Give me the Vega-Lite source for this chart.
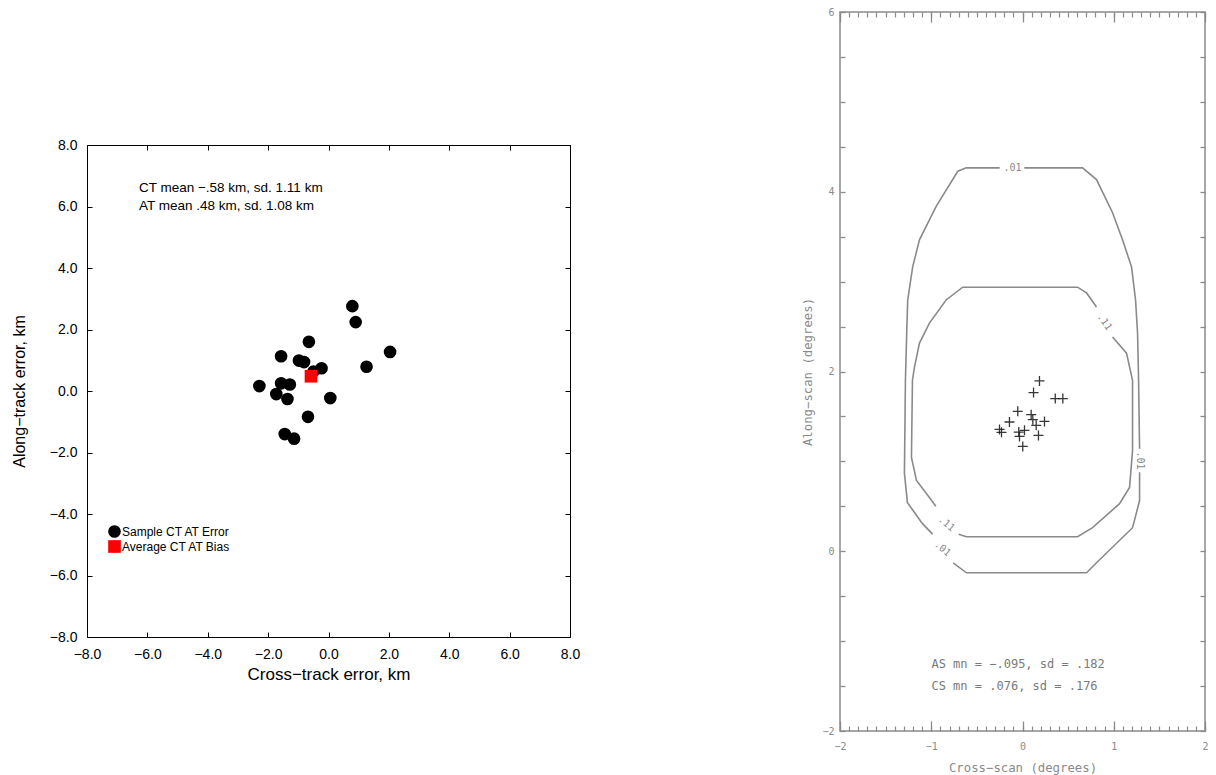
{
  "$schema": "https://vega.github.io/schema/vega-lite/v6.json",
  "padding": {"left": 10, "top": 6, "right": 0, "bottom": 0},
  "background": "white",
  "spacing": 220,
  "config": {"axis": {"grid": false, "labelFlush": false}},
  "hconcat": [
    {
      "spacing": 0,
      "vconcat": [
        {
          "width": 10,
          "height": 125,
          "view": {"stroke": null},
          "data": {"values": []},
          "mark": "point"
        },
        {
          "width": 483,
          "height": 492,
          "view": {"stroke": "black", "strokeWidth": 1},
          "resolve": {"axis": {"x": "independent", "y": "independent"}},
          "layer": [
            {
              "data": {"values": [
                {"ct": 0.79, "at": 2.76, "kind": "Sample CT AT Error"},
                {"ct": 0.90, "at": 2.24, "kind": "Sample CT AT Error"},
                {"ct": -0.65, "at": 1.60, "kind": "Sample CT AT Error"},
                {"ct": 2.04, "at": 1.27, "kind": "Sample CT AT Error"},
                {"ct": -1.57, "at": 1.13, "kind": "Sample CT AT Error"},
                {"ct": -0.98, "at": 0.99, "kind": "Sample CT AT Error"},
                {"ct": -0.81, "at": 0.94, "kind": "Sample CT AT Error"},
                {"ct": -0.23, "at": 0.74, "kind": "Sample CT AT Error"},
                {"ct": 1.26, "at": 0.79, "kind": "Sample CT AT Error"},
                {"ct": -0.50, "at": 0.63, "kind": "Sample CT AT Error"},
                {"ct": -2.29, "at": 0.16, "kind": "Sample CT AT Error"},
                {"ct": -1.57, "at": 0.25, "kind": "Sample CT AT Error"},
                {"ct": -1.28, "at": 0.21, "kind": "Sample CT AT Error"},
                {"ct": -1.73, "at": -0.10, "kind": "Sample CT AT Error"},
                {"ct": -1.36, "at": -0.26, "kind": "Sample CT AT Error"},
                {"ct": 0.06, "at": -0.23, "kind": "Sample CT AT Error"},
                {"ct": -0.68, "at": -0.84, "kind": "Sample CT AT Error"},
                {"ct": -1.45, "at": -1.40, "kind": "Sample CT AT Error"},
                {"ct": -1.14, "at": -1.55, "kind": "Sample CT AT Error"},
                {"ct": -0.58, "at": 0.48, "kind": "Average CT AT Bias"}
              ]},
              "mark": {"type": "point", "filled": true, "size": 160, "opacity": 1},
              "encoding": {
                "x": {"field": "ct", "type": "quantitative",
                  "scale": {"domain": [-8, 8], "nice": false, "zero": false},
                  "axis": {"orient": "bottom", "values": [-8, -6, -4, -2, 0, 2, 4, 6, 8], "format": ".1f",
                    "ticks": false, "domain": false, "labelPadding": 10,
                    "labelFont": "Liberation Sans", "labelFontSize": 14, "labelColor": "black",
                    "title": "Cross−track error, km", "titleFont": "Liberation Sans", "titleFontSize": 17,
                    "titleFontWeight": "normal", "titleColor": "black", "titlePadding": 5}},
                "y": {"field": "at", "type": "quantitative",
                  "scale": {"domain": [-8, 8], "nice": false, "zero": false},
                  "axis": {"orient": "left", "values": [-8, -6, -4, -2, 0, 2, 4, 6, 8], "format": ".1f",
                    "ticks": false, "domain": false, "labelPadding": 10,
                    "labelFont": "Liberation Sans", "labelFontSize": 14, "labelColor": "black",
                    "title": "Along−track error, km", "titleFont": "Liberation Sans", "titleFontSize": 16,
                    "titleFontWeight": "normal", "titleColor": "black", "titlePadding": 22}},
                "color": {"field": "kind", "type": "nominal",
                  "scale": {"domain": ["Sample CT AT Error", "Average CT AT Bias"], "range": ["#000000", "#ff0000"]},
                  "legend": {"orient": "none", "legendX": 21, "legendY": 513, "title": null,
                    "labelFont": "Liberation Sans", "labelFontSize": 12, "labelColor": "black",
                    "labelOffset": 1, "rowPadding": 2, "symbolSize": 160, "symbolStrokeWidth": 0}},
                "shape": {"field": "kind", "type": "nominal",
                  "scale": {"domain": ["Sample CT AT Error", "Average CT AT Bias"], "range": ["circle", "square"]},
                  "legend": {"orient": "none", "legendX": 21, "legendY": 513, "title": null,
                    "labelFont": "Liberation Sans", "labelFontSize": 12, "labelColor": "black",
                    "labelOffset": 1, "rowPadding": 2, "symbolSize": 160, "symbolStrokeWidth": 0}},
                "order": {"field": "kind", "sort": "descending"}
              }
            },
            {
              "data": {"values": [{"t": "CT mean −.58 km, sd. 1.11 km"}]},
              "mark": {"type": "text", "align": "left", "baseline": "middle", "font": "Liberation Sans", "fontSize": 13.5, "color": "black"},
              "encoding": {
                "text": {"field": "t"},
                "x": {"datum": -6.28, "type": "quantitative",
                  "axis": {"orient": "bottom", "values": [-8, -6, -4, -2, 0, 2, 4, 6, 8], "labels": false, "domain": false,
                    "tickSize": -5, "tickColor": "black", "title": null}},
                "y": {"datum": 6.6, "type": "quantitative",
                  "axis": {"orient": "left", "values": [-8, -6, -4, -2, 0, 2, 4, 6, 8], "labels": false, "domain": false,
                    "tickSize": -5, "tickColor": "black", "title": null}}
              }
            },
            {
              "data": {"values": [{"t": "AT mean .48 km, sd. 1.08 km"}]},
              "mark": {"type": "text", "align": "left", "baseline": "middle", "font": "Liberation Sans", "fontSize": 13.5, "color": "black"},
              "encoding": {
                "text": {"field": "t"},
                "x": {"datum": -6.28, "type": "quantitative",
                  "axis": {"orient": "top", "values": [-8, -6, -4, -2, 0, 2, 4, 6, 8], "labels": false, "domain": false,
                    "tickSize": -5, "tickColor": "black", "title": null}},
                "y": {"datum": 6.02, "type": "quantitative",
                  "axis": {"orient": "right", "values": [-8, -6, -4, -2, 0, 2, 4, 6, 8], "labels": false, "domain": false,
                    "tickSize": -5, "tickColor": "black", "title": null}}
              }
            }
          ]
        }
      ]
    },
    {
      "width": 365,
      "height": 719,
      "view": {"stroke": "#8a8a8a", "strokeWidth": 1.5},
      "resolve": {"axis": {"x": "independent", "y": "independent"}},
      "layer": [
        {
          "data": {"values": [
            {"seg": "O1", "level": ".01", "ord": 1, "x": -0.25, "y": 4.266},
            {"seg": "O1", "level": ".01", "ord": 2, "x": -0.617, "y": 4.266},
            {"seg": "O1", "level": ".01", "ord": 3, "x": -0.709, "y": 4.228},
            {"seg": "O1", "level": ".01", "ord": 4, "x": -0.946, "y": 3.837},
            {"seg": "O1", "level": ".01", "ord": 5, "x": -1.129, "y": 3.465},
            {"seg": "O1", "level": ".01", "ord": 6, "x": -1.203, "y": 3.167},
            {"seg": "O1", "level": ".01", "ord": 7, "x": -1.258, "y": 2.796},
            {"seg": "O1", "level": ".01", "ord": 8, "x": -1.269, "y": 2.427},
            {"seg": "O1", "level": ".01", "ord": 9, "x": -1.283, "y": 1.903},
            {"seg": "O1", "level": ".01", "ord": 10, "x": -1.294, "y": 0.865},
            {"seg": "O1", "level": ".01", "ord": 11, "x": -1.261, "y": 0.541},
            {"seg": "O1", "level": ".01", "ord": 12, "x": -1.096, "y": 0.307},
            {"seg": "O1", "level": ".01", "ord": 13, "x": -0.985, "y": 0.19},
            {"seg": "O2", "level": ".01", "ord": 1, "x": -0.76, "y": -0.13},
            {"seg": "O2", "level": ".01", "ord": 2, "x": -0.614, "y": -0.24},
            {"seg": "O2", "level": ".01", "ord": 3, "x": 0.702, "y": -0.24},
            {"seg": "O2", "level": ".01", "ord": 4, "x": 0.811, "y": -0.128},
            {"seg": "O2", "level": ".01", "ord": 5, "x": 1.206, "y": 0.262},
            {"seg": "O2", "level": ".01", "ord": 6, "x": 1.283, "y": 0.564},
            {"seg": "O2", "level": ".01", "ord": 7, "x": 1.283, "y": 0.88},
            {"seg": "O3", "level": ".01", "ord": 1, "x": 1.283, "y": 1.14},
            {"seg": "O3", "level": ".01", "ord": 2, "x": 1.272, "y": 1.903},
            {"seg": "O3", "level": ".01", "ord": 3, "x": 1.261, "y": 2.427},
            {"seg": "O3", "level": ".01", "ord": 4, "x": 1.239, "y": 2.796},
            {"seg": "O3", "level": ".01", "ord": 5, "x": 1.195, "y": 3.164},
            {"seg": "O3", "level": ".01", "ord": 6, "x": 1.096, "y": 3.465},
            {"seg": "O3", "level": ".01", "ord": 7, "x": 0.987, "y": 3.767},
            {"seg": "O3", "level": ".01", "ord": 8, "x": 0.811, "y": 4.135},
            {"seg": "O3", "level": ".01", "ord": 9, "x": 0.658, "y": 4.266},
            {"seg": "O3", "level": ".01", "ord": 10, "x": 0.02, "y": 4.266},
            {"seg": "I1", "level": ".11", "ord": 1, "x": 0.811, "y": 2.718},
            {"seg": "I1", "level": ".11", "ord": 2, "x": 0.702, "y": 2.874},
            {"seg": "I1", "level": ".11", "ord": 3, "x": 0.603, "y": 2.938},
            {"seg": "I1", "level": ".11", "ord": 4, "x": -0.655, "y": 2.938},
            {"seg": "I1", "level": ".11", "ord": 5, "x": -0.837, "y": 2.796},
            {"seg": "I1", "level": ".11", "ord": 6, "x": -1.02, "y": 2.539},
            {"seg": "I1", "level": ".11", "ord": 7, "x": -1.129, "y": 2.316},
            {"seg": "I1", "level": ".11", "ord": 8, "x": -1.184, "y": 2.048},
            {"seg": "I1", "level": ".11", "ord": 9, "x": -1.206, "y": 1.903},
            {"seg": "I1", "level": ".11", "ord": 10, "x": -1.217, "y": 1.044},
            {"seg": "I1", "level": ".11", "ord": 11, "x": -1.162, "y": 0.787},
            {"seg": "I1", "level": ".11", "ord": 12, "x": -1.02, "y": 0.597},
            {"seg": "I1", "level": ".11", "ord": 13, "x": -0.95, "y": 0.5},
            {"seg": "I2", "level": ".11", "ord": 1, "x": -0.7, "y": 0.19},
            {"seg": "I2", "level": ".11", "ord": 2, "x": -0.614, "y": 0.162},
            {"seg": "I2", "level": ".11", "ord": 3, "x": 0.603, "y": 0.162},
            {"seg": "I2", "level": ".11", "ord": 4, "x": 0.768, "y": 0.262},
            {"seg": "I2", "level": ".11", "ord": 5, "x": 1.064, "y": 0.53},
            {"seg": "I2", "level": ".11", "ord": 6, "x": 1.173, "y": 0.709},
            {"seg": "I2", "level": ".11", "ord": 7, "x": 1.206, "y": 1.122},
            {"seg": "I2", "level": ".11", "ord": 8, "x": 1.206, "y": 1.903},
            {"seg": "I2", "level": ".11", "ord": 9, "x": 1.14, "y": 2.204},
            {"seg": "I2", "level": ".11", "ord": 10, "x": 0.987, "y": 2.383}
          ]},
          "mark": {"type": "line", "stroke": "#8a8a8a", "strokeWidth": 1.6, "interpolate": "linear"},
          "encoding": {
            "x": {"field": "x", "type": "quantitative",
              "scale": {"domain": [-2, 2], "nice": false, "zero": false},
              "axis": {"orient": "bottom", "values": [-2, -1, 0, 1, 2], "format": "d",
                "ticks": false, "domain": false, "labelPadding": 10,
                "labelFont": "DejaVu Sans Mono", "labelFontSize": 10, "labelColor": "#8a8a8a",
                "title": "Cross−scan (degrees)", "titleFont": "DejaVu Sans Mono", "titleFontSize": 12.3,
                "titleFontWeight": "normal", "titleColor": "#8a8a8a", "titlePadding": 10}},
            "y": {"field": "y", "type": "quantitative",
              "scale": {"domain": [-2, 6], "nice": false, "zero": false},
              "axis": {"orient": "left", "values": [-2, 0, 2, 4, 6], "format": "d",
                "ticks": false, "domain": false, "labelPadding": 6,
                "labelFont": "DejaVu Sans Mono", "labelFontSize": 10, "labelColor": "#8a8a8a",
                "title": "Along−scan (degrees)", "titleFont": "DejaVu Sans Mono", "titleFontSize": 12.3,
                "titleFontWeight": "normal", "titleColor": "#8a8a8a", "titlePadding": 7}},
            "detail": {"field": "seg"},
            "order": {"field": "ord", "type": "quantitative"}
          }
        },
        {
          "data": {"values": [
            {"cs": 0.186, "as": 1.895},
            {"cs": 0.121, "as": 1.766},
            {"cs": 0.359, "as": 1.699},
            {"cs": 0.442, "as": 1.699},
            {"cs": -0.052, "as": 1.557},
            {"cs": -0.143, "as": 1.438},
            {"cs": 0.095, "as": 1.52},
            {"cs": 0.113, "as": 1.464},
            {"cs": 0.15, "as": 1.401},
            {"cs": 0.241, "as": 1.445},
            {"cs": -0.252, "as": 1.356},
            {"cs": -0.23, "as": 1.323},
            {"cs": -0.041, "as": 1.326},
            {"cs": 0.022, "as": 1.345},
            {"cs": -0.033, "as": 1.278},
            {"cs": 0.175, "as": 1.289},
            {"cs": 0.003, "as": 1.166}
          ]},
          "mark": {"type": "point", "shape": "M-1,0L1,0M0,-1L0,1", "filled": false, "stroke": "#222222", "strokeWidth": 1.3, "size": 100, "opacity": 0.9},
          "encoding": {
            "x": {"field": "cs", "type": "quantitative",
              "axis": {"orient": "bottom", "values": [-2, -1, 0, 1, 2], "labels": false, "domain": false,
                "tickSize": -10, "tickColor": "#8a8a8a", "tickWidth": 1.3, "title": null}},
            "y": {"field": "as", "type": "quantitative",
              "axis": {"orient": "left", "values": [-2, -1.5, -1, -0.5, 0, 0.5, 1, 1.5, 2, 2.5, 3, 3.5, 4, 4.5, 5, 5.5, 6],
                "labels": false, "domain": false, "tickSize": -5, "tickColor": "#8a8a8a", "tickWidth": 1.3, "title": null}}
          }
        },
        {
          "data": {"values": [{"t": "AS mn = −.095, sd = .182"}]},
          "mark": {"type": "text", "align": "left", "baseline": "middle", "font": "DejaVu Sans Mono", "fontSize": 12, "color": "#7a7a7a"},
          "encoding": {
            "text": {"field": "t"},
            "x": {"datum": -0.998, "type": "quantitative",
              "axis": {"orient": "top", "values": [-2, -1, 0, 1, 2], "labels": false, "domain": false,
                "tickSize": -10, "tickColor": "#8a8a8a", "tickWidth": 1.3, "title": null}},
            "y": {"datum": -1.256, "type": "quantitative",
              "axis": {"orient": "right", "values": [-2, -1.5, -1, -0.5, 0, 0.5, 1, 1.5, 2, 2.5, 3, 3.5, 4, 4.5, 5, 5.5, 6],
                "labels": false, "domain": false, "tickSize": -5, "tickColor": "#8a8a8a", "tickWidth": 1.3, "title": null}}
          }
        },
        {
          "data": {"values": [{"t": "CS mn = .076, sd = .176"}]},
          "mark": {"type": "text", "align": "left", "baseline": "middle", "font": "DejaVu Sans Mono", "fontSize": 12, "color": "#7a7a7a"},
          "encoding": {
            "text": {"field": "t"},
            "x": {"datum": -0.998, "type": "quantitative",
              "axis": {"orient": "bottom", "values": [-2, -1.9, -1.8, -1.7, -1.6, -1.5, -1.4, -1.3, -1.2, -1.1, -1, -0.9, -0.8, -0.7, -0.6, -0.5, -0.4, -0.3, -0.2, -0.1, 0, 0.1, 0.2, 0.3, 0.4, 0.5, 0.6, 0.7, 0.8, 0.9, 1, 1.1, 1.2, 1.3, 1.4, 1.5, 1.6, 1.7, 1.8, 1.9, 2],
                "labels": false, "domain": false, "tickSize": -5, "tickColor": "#8a8a8a", "tickWidth": 1.2, "title": null}},
            "y": {"datum": -1.501, "type": "quantitative", "axis": null}
          }
        },
        {
          "data": {"values": [{"lev": ".01"}]},
          "mark": {"type": "text", "align": "center", "baseline": "middle", "font": "DejaVu Sans Mono", "fontSize": 10, "color": "#8a8a8a"},
          "encoding": {
            "text": {"field": "lev"},
            "x": {"datum": -0.11, "type": "quantitative",
              "axis": {"orient": "top", "values": [-2, -1.9, -1.8, -1.7, -1.6, -1.5, -1.4, -1.3, -1.2, -1.1, -1, -0.9, -0.8, -0.7, -0.6, -0.5, -0.4, -0.3, -0.2, -0.1, 0, 0.1, 0.2, 0.3, 0.4, 0.5, 0.6, 0.7, 0.8, 0.9, 1, 1.1, 1.2, 1.3, 1.4, 1.5, 1.6, 1.7, 1.8, 1.9, 2],
                "labels": false, "domain": false, "tickSize": -5, "tickColor": "#8a8a8a", "tickWidth": 1.2, "title": null}},
            "y": {"datum": 4.266, "type": "quantitative", "axis": null}
          }
        },
        {
          "data": {"values": [{"lev": ".11"}]},
          "mark": {"type": "text", "align": "center", "baseline": "middle", "font": "DejaVu Sans Mono", "fontSize": 10, "color": "#8a8a8a", "angle": 55},
          "encoding": {
            "text": {"field": "lev"},
            "x": {"datum": 0.899, "type": "quantitative", "axis": null},
            "y": {"datum": 2.55, "type": "quantitative", "axis": null}
          }
        },
        {
          "data": {"values": [{"lev": ".01"}]},
          "mark": {"type": "text", "align": "center", "baseline": "middle", "font": "DejaVu Sans Mono", "fontSize": 10, "color": "#8a8a8a", "angle": 90},
          "encoding": {
            "text": {"field": "lev"},
            "x": {"datum": 1.283, "type": "quantitative", "axis": null},
            "y": {"datum": 1.01, "type": "quantitative", "axis": null}
          }
        },
        {
          "data": {"values": [{"lev": ".11"}]},
          "mark": {"type": "text", "align": "center", "baseline": "middle", "font": "DejaVu Sans Mono", "fontSize": 10, "color": "#8a8a8a", "angle": 40},
          "encoding": {
            "text": {"field": "lev"},
            "x": {"datum": -0.833, "type": "quantitative", "axis": null},
            "y": {"datum": 0.307, "type": "quantitative", "axis": null}
          }
        },
        {
          "data": {"values": [{"lev": ".01"}]},
          "mark": {"type": "text", "align": "center", "baseline": "middle", "font": "DejaVu Sans Mono", "fontSize": 10, "color": "#8a8a8a", "angle": 40},
          "encoding": {
            "text": {"field": "lev"},
            "x": {"datum": -0.877, "type": "quantitative", "axis": null},
            "y": {"datum": 0.028, "type": "quantitative", "axis": null}
          }
        }
      ]
    }
  ]
}
